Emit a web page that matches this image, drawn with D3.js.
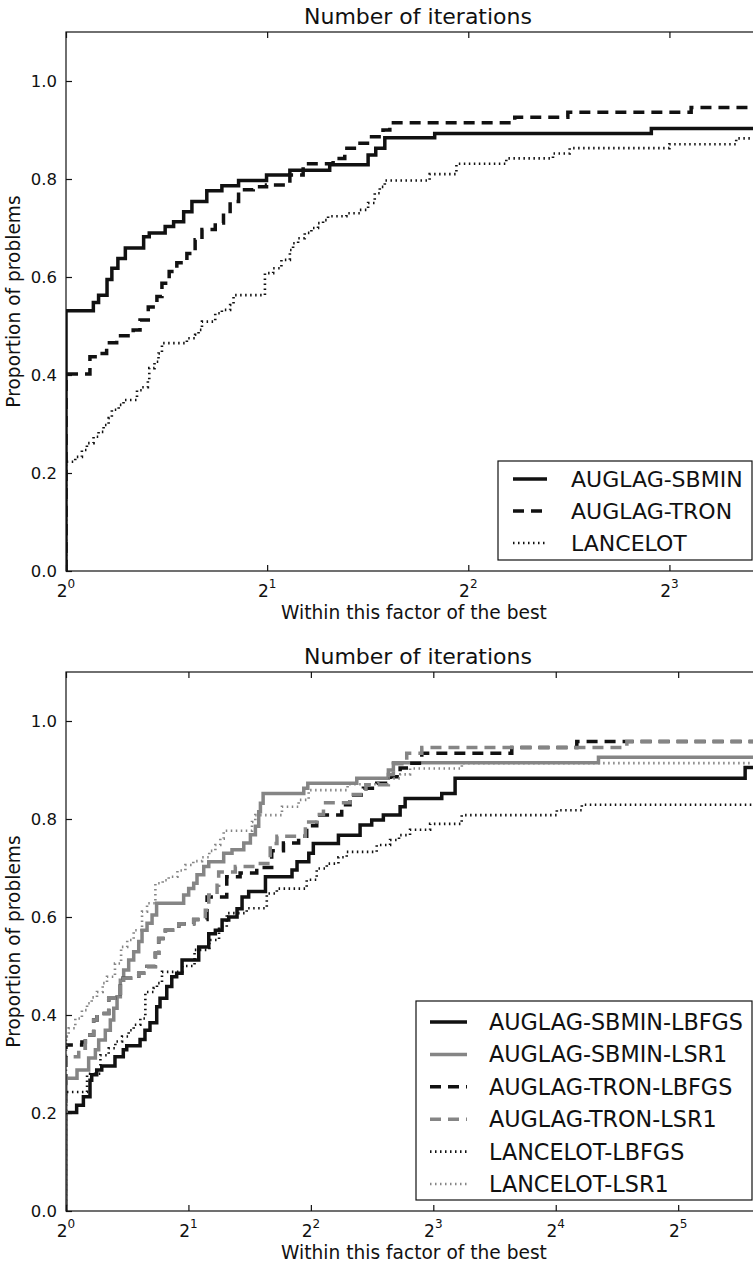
<!DOCTYPE html>
<html><head><meta charset="utf-8">
<script src="https://cdn.jsdelivr.net/npm/d3@7/dist/d3.min.js"></script>
<style>body{margin:0;background:#fff}svg{display:block;font-family:"DejaVu Sans",sans-serif}</style>
</head><body>
<svg id="chart" width="753" height="1266"></svg>
<script>
// ---------- DATA (x values are log2 of the performance ratio tau) ----------
const chartTitle = "Number of iterations";
const xLabel = "Within this factor of the best";
const yLabel = "Proportion of problems";
const yTicks = [0.0, 0.2, 0.4, 0.6, 0.8, 1.0];
const topXTicks = [0, 1, 2, 3];
const bottomXTicks = [0, 1, 2, 3, 4, 5];
const topXMax = 3.5;
const bottomXMax = 5.75;

const topNames = ["AUGLAG-SBMIN", "AUGLAG-TRON", "LANCELOT"];
const topSbminX = [0, 0.136, 0.162, 0.204, 0.228, 0.258, 0.295, 0.386, 0.414, 0.493, 0.535, 0.585, 0.626, 0.700, 0.775, 0.858, 0.997, 1.113, 1.311, 1.502, 1.540, 1.585, 1.833, 2.910];
const topSbminY = [0.531, 0.548, 0.563, 0.595, 0.618, 0.638, 0.659, 0.682, 0.690, 0.703, 0.713, 0.733, 0.754, 0.776, 0.786, 0.797, 0.808, 0.818, 0.829, 0.849, 0.863, 0.884, 0.893, 0.903];
const topTronX = [0, 0.119, 0.169, 0.202, 0.252, 0.334, 0.368, 0.409, 0.452, 0.477, 0.513, 0.551, 0.601, 0.642, 0.676, 0.742, 0.783, 0.816, 0.858, 0.931, 0.997, 1.113, 1.179, 1.328, 1.386, 1.450, 1.519, 1.576, 1.610, 2.231, 2.495, 3.108];
const topTronY = [0.402, 0.437, 0.444, 0.466, 0.480, 0.492, 0.512, 0.539, 0.560, 0.587, 0.611, 0.629, 0.648, 0.676, 0.697, 0.710, 0.730, 0.754, 0.778, 0.784, 0.788, 0.808, 0.831, 0.842, 0.863, 0.873, 0.886, 0.900, 0.915, 0.926, 0.936, 0.946];
const topLancelotX = [0, 0.046, 0.079, 0.104, 0.137, 0.162, 0.187, 0.212, 0.228, 0.262, 0.286, 0.353, 0.378, 0.407, 0.414, 0.440, 0.460, 0.477, 0.601, 0.642, 0.659, 0.676, 0.742, 0.775, 0.816, 0.833, 0.989, 1.030, 1.071, 1.113, 1.129, 1.154, 1.187, 1.220, 1.253, 1.278, 1.303, 1.394, 1.461, 1.502, 1.535, 1.560, 1.585, 1.808, 1.941, 2.189, 2.421, 2.504, 3.000, 3.332];
const topLancelotY = [0.223, 0.233, 0.247, 0.261, 0.274, 0.284, 0.298, 0.312, 0.329, 0.339, 0.349, 0.369, 0.375, 0.390, 0.414, 0.427, 0.444, 0.465, 0.475, 0.482, 0.492, 0.509, 0.526, 0.533, 0.543, 0.563, 0.608, 0.618, 0.635, 0.655, 0.669, 0.679, 0.690, 0.700, 0.710, 0.716, 0.724, 0.730, 0.737, 0.751, 0.771, 0.784, 0.797, 0.810, 0.831, 0.842, 0.852, 0.863, 0.871, 0.883];

const bottomNames = ["AUGLAG-SBMIN-LBFGS", "AUGLAG-SBMIN-LSR1", "AUGLAG-TRON-LBFGS", "AUGLAG-TRON-LSR1", "LANCELOT-LBFGS", "LANCELOT-LSR1"];
const sbminLbfgsX = [0, 0.087, 0.142, 0.196, 0.210, 0.251, 0.292, 0.400, 0.468, 0.496, 0.605, 0.645, 0.686, 0.741, 0.768, 0.823, 0.864, 0.904, 0.948, 1.084, 1.166, 1.220, 1.275, 1.329, 1.397, 1.438, 1.492, 1.629, 1.846, 1.887, 1.983, 2.020, 2.225, 2.402, 2.497, 2.592, 2.729, 2.770, 3.069, 3.178, 5.547];
const sbminLbfgsY = [0.201, 0.216, 0.233, 0.267, 0.278, 0.288, 0.296, 0.315, 0.329, 0.337, 0.350, 0.369, 0.384, 0.417, 0.434, 0.458, 0.478, 0.485, 0.512, 0.539, 0.566, 0.573, 0.594, 0.600, 0.617, 0.641, 0.652, 0.682, 0.696, 0.713, 0.730, 0.750, 0.767, 0.788, 0.798, 0.808, 0.825, 0.842, 0.852, 0.883, 0.905];
const sbminLsr1X = [0, 0.090, 0.185, 0.240, 0.267, 0.321, 0.362, 0.390, 0.417, 0.444, 0.471, 0.512, 0.553, 0.594, 0.621, 0.662, 0.703, 0.740, 0.961, 1.002, 1.043, 1.070, 1.125, 1.166, 1.288, 1.356, 1.452, 1.506, 1.547, 1.574, 1.588, 1.610, 1.942, 1.975, 2.375, 2.633, 2.674, 4.349];
const sbminLsr1Y = [0.271, 0.288, 0.312, 0.329, 0.349, 0.369, 0.390, 0.414, 0.437, 0.471, 0.492, 0.512, 0.529, 0.550, 0.573, 0.587, 0.604, 0.628, 0.645, 0.658, 0.669, 0.686, 0.703, 0.713, 0.730, 0.737, 0.751, 0.768, 0.785, 0.815, 0.832, 0.852, 0.863, 0.873, 0.883, 0.900, 0.915, 0.926];
const tronLbfgsX = [0, 0.130, 0.158, 0.226, 0.253, 0.349, 0.444, 0.594, 0.662, 0.730, 0.757, 0.812, 0.921, 1.043, 1.152, 1.313, 1.422, 1.558, 1.680, 1.776, 1.900, 1.966, 2.048, 2.252, 2.320, 2.429, 2.538, 2.647, 2.729, 2.810, 2.906, 3.641, 4.172];
const tronLbfgsY = [0.339, 0.345, 0.359, 0.390, 0.403, 0.434, 0.475, 0.485, 0.499, 0.526, 0.556, 0.573, 0.586, 0.595, 0.641, 0.682, 0.690, 0.701, 0.735, 0.751, 0.765, 0.786, 0.808, 0.829, 0.849, 0.863, 0.873, 0.886, 0.904, 0.914, 0.934, 0.946, 0.958];
const tronLsr1X = [0, 0.104, 0.158, 0.226, 0.253, 0.349, 0.444, 0.594, 0.662, 0.730, 0.757, 0.812, 0.921, 1.043, 1.138, 1.166, 1.234, 1.247, 1.383, 1.546, 1.668, 1.723, 1.955, 2.048, 2.103, 2.320, 2.450, 2.633, 2.674, 2.783, 2.906, 4.581];
const tronLsr1Y = [0.315, 0.332, 0.359, 0.390, 0.403, 0.434, 0.475, 0.485, 0.499, 0.526, 0.556, 0.573, 0.586, 0.595, 0.614, 0.645, 0.665, 0.692, 0.703, 0.709, 0.750, 0.765, 0.794, 0.809, 0.833, 0.850, 0.870, 0.891, 0.913, 0.934, 0.946, 0.958];
const lancelotLbfgsX = [0, 0.172, 0.281, 0.349, 0.403, 0.458, 0.512, 0.553, 0.607, 0.648, 0.716, 0.743, 0.784, 0.950, 1.050, 1.171, 1.250, 1.313, 1.476, 1.640, 1.722, 1.966, 2.048, 2.130, 2.225, 2.293, 2.538, 2.647, 2.720, 2.810, 2.974, 3.232, 4.009, 4.213];
const lancelotLbfgsY = [0.243, 0.280, 0.318, 0.332, 0.346, 0.356, 0.369, 0.380, 0.393, 0.447, 0.455, 0.465, 0.488, 0.500, 0.533, 0.553, 0.580, 0.608, 0.618, 0.648, 0.658, 0.676, 0.699, 0.709, 0.722, 0.733, 0.747, 0.757, 0.767, 0.778, 0.790, 0.808, 0.818, 0.829];
const lancelotLsr1X = [0, 0.022, 0.076, 0.130, 0.172, 0.210, 0.253, 0.300, 0.335, 0.400, 0.450, 0.500, 0.553, 0.621, 0.662, 0.730, 0.790, 0.839, 0.910, 0.975, 1.040, 1.111, 1.170, 1.220, 1.260, 1.288, 1.519, 1.546, 1.764, 1.900, 1.982, 2.300, 2.550, 2.730, 2.810, 3.233];
const lancelotLsr1Y = [0.356, 0.373, 0.393, 0.410, 0.424, 0.436, 0.447, 0.465, 0.478, 0.505, 0.539, 0.553, 0.573, 0.611, 0.628, 0.669, 0.675, 0.682, 0.695, 0.706, 0.714, 0.722, 0.735, 0.747, 0.760, 0.776, 0.794, 0.808, 0.825, 0.839, 0.859, 0.871, 0.883, 0.891, 0.903, 0.914];

// ---------- STYLES ----------
const BLACK = "#111", GRAY = "#858585";
const styles = {
  solid:  {width: 3.5, dash: null},
  dashed: {width: 3.5, dash: "11,7"},
  dotted: {width: 2.6, dash: "1.5,3.5"}
};

const topSeries = [
  {name: topNames[0], xs: topSbminX, ys: topSbminY, color: BLACK, style: "solid"},
  {name: topNames[1], xs: topTronX, ys: topTronY, color: BLACK, style: "dashed"},
  {name: topNames[2], xs: topLancelotX, ys: topLancelotY, color: BLACK, style: "dotted"}
];
const bottomSeries = [
  {name: bottomNames[0], xs: sbminLbfgsX, ys: sbminLbfgsY, color: BLACK, style: "solid"},
  {name: bottomNames[1], xs: sbminLsr1X, ys: sbminLsr1Y, color: GRAY, style: "solid"},
  {name: bottomNames[2], xs: tronLbfgsX, ys: tronLbfgsY, color: BLACK, style: "dashed"},
  {name: bottomNames[3], xs: tronLsr1X, ys: tronLsr1Y, color: GRAY, style: "dashed"},
  {name: bottomNames[4], xs: lancelotLbfgsX, ys: lancelotLbfgsY, color: BLACK, style: "dotted"},
  {name: bottomNames[5], xs: lancelotLsr1X, ys: lancelotLsr1Y, color: GRAY, style: "dotted"}
];

const svg = d3.select("#chart");

function drawPanel(cfg) {
  const {id, left, top, right, bottom, xMax, xTicks, series, legend} = cfg;
  const x = d3.scaleLinear().domain([0, xMax]).range([left, right]);
  const y = d3.scaleLinear().domain([0, 1.1]).range([bottom, top]);
  const g = svg.append("g");

  g.append("clipPath").attr("id", "clip" + id)
    .append("rect").attr("x", left).attr("y", top).attr("width", right - left).attr("height", bottom - top);

  const line = d3.line().x(d => x(d[0])).y(d => y(d[1])).curve(d3.curveStepAfter);
  const lines = g.append("g").attr("clip-path", `url(#clip${id})`);
  series.forEach(s => {
    const pts = [[0, 0]];
    s.xs.forEach((v, i) => pts.push([v, s.ys[i]]));
    pts.push([xMax, s.ys[s.ys.length - 1]]);
    const st = styles[s.style];
    lines.append("path").attr("d", line(pts)).attr("fill", "none")
      .attr("stroke", s.color).attr("stroke-width", st.width)
      .attr("stroke-dasharray", st.dash).attr("stroke-linejoin", "miter");
  });

  // frame
  g.append("rect").attr("x", left).attr("y", top).attr("width", right - left).attr("height", bottom - top)
    .attr("fill", "none").attr("stroke", "#111").attr("stroke-width", 1.2);

  // ticks
  const axB = g.append("g").attr("transform", `translate(0,${bottom})`)
    .call(d3.axisBottom(x).tickValues(xTicks).tickSize(-6).tickFormat(""));
  const axT = g.append("g").attr("transform", `translate(0,${top})`)
    .call(d3.axisTop(x).tickValues(xTicks).tickSize(-6).tickFormat(""));
  const axL = g.append("g").attr("transform", `translate(${left},0)`)
    .call(d3.axisLeft(y).tickValues(yTicks).tickSize(-6).tickPadding(9).tickFormat(d3.format(".1f")));
  [axB, axT, axL].forEach(a => {
    a.select(".domain").remove();
    a.selectAll("line").attr("stroke", "#111").attr("stroke-width", 1.2);
  });
  axL.selectAll("text").attr("font-size", 16.5).attr("fill", "#111").attr("font-family", "DejaVu Sans");

  // x tick labels 2^k
  xTicks.forEach(k => {
    const t = g.append("text").attr("x", x(k)).attr("y", bottom + 26)
      .attr("text-anchor", "middle").attr("font-size", 17).attr("fill", "#111");
    t.append("tspan").text("2");
    t.append("tspan").attr("dy", -9.5).attr("font-size", 12).text(k);
  });

  // titles
  g.append("text").attr("x", (left + right) / 2).attr("y", top - 8).attr("text-anchor", "middle")
    .attr("font-size", 22).attr("fill", "#111").text(chartTitle);
  g.append("text").attr("x", (left + right) / 2 - 4).attr("y", bottom + 48).attr("text-anchor", "middle")
    .attr("font-size", 18.6).attr("fill", "#111").text(xLabel);
  g.append("text").attr("transform", `translate(20,${(top + bottom) / 2}) rotate(-90)`)
    .attr("text-anchor", "middle").attr("font-size", 18.6).attr("fill", "#111").text(yLabel);

  // legend
  const L = legend;
  g.append("rect").attr("x", L.x0).attr("y", L.y0).attr("width", L.x1 - L.x0).attr("height", L.y1 - L.y0)
    .attr("fill", "#fff").attr("stroke", "#111").attr("stroke-width", 1.2);
  series.forEach((s, i) => {
    const cy = L.firstRow + i * L.rowGap;
    const st = styles[s.style];
    g.append("line").attr("x1", L.lx0).attr("x2", L.lx1).attr("y1", cy).attr("y2", cy)
      .attr("stroke", s.color).attr("stroke-width", st.width).attr("stroke-dasharray", st.dash);
    g.append("text").attr("x", L.tx).attr("y", cy + 8).attr("font-size", L.fs).attr("fill", "#111").text(s.name);
  });
}

drawPanel({id: "top", left: 66, top: 32, right: 770, bottom: 571, xMax: topXMax, xTicks: topXTicks, series: topSeries,
  legend: {x0: 498, y0: 461, x1: 752, y1: 560, firstRow: 479, rowGap: 32, lx0: 513, lx1: 547, tx: 571, fs: 22}});
drawPanel({id: "bot", left: 66, top: 672, right: 770, bottom: 1211, xMax: bottomXMax, xTicks: bottomXTicks, series: bottomSeries,
  legend: {x0: 416, y0: 1001, x1: 752, y1: 1200, firstRow: 1022, rowGap: 32.4, lx0: 430, lx1: 467, tx: 489, fs: 22.3}});
</script>
</body></html>
